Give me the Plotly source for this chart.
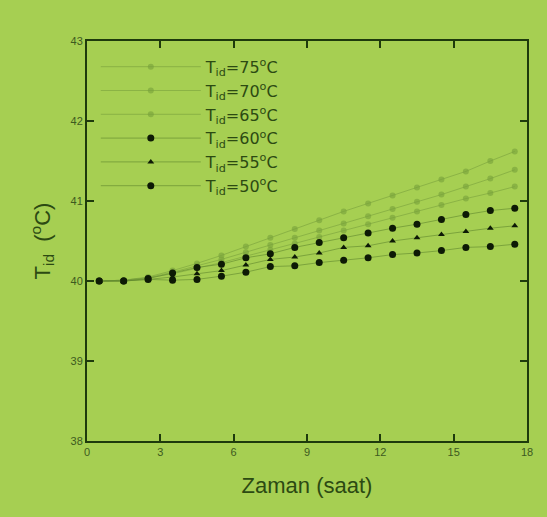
import plotly.graph_objects as go

hours = [0.5, 1.5, 2.5, 3.5, 4.5, 5.5, 6.5, 7.5, 8.5, 9.5, 10.5, 11.5, 12.5, 13.5, 14.5, 15.5, 16.5, 17.5]

t75 = [40.00, 40.01, 40.05, 40.13, 40.22, 40.32, 40.43, 40.54, 40.65, 40.76, 40.87, 40.97, 41.07, 41.17, 41.27, 41.37, 41.50, 41.62]
t70 = [40.00, 40.01, 40.04, 40.11, 40.19, 40.27, 40.36, 40.45, 40.54, 40.63, 40.72, 40.81, 40.90, 40.99, 41.08, 41.18, 41.28, 41.39]
t65 = [40.00, 40.01, 40.04, 40.09, 40.16, 40.23, 40.31, 40.39, 40.47, 40.55, 40.63, 40.71, 40.79, 40.87, 40.95, 41.03, 41.10, 41.18]
t60 = [40.00, 40.00, 40.03, 40.10, 40.17, 40.21, 40.29, 40.34, 40.42, 40.48, 40.54, 40.60, 40.66, 40.71, 40.77, 40.83, 40.88, 40.91]
t55 = [40.00, 40.00, 40.02, 40.05, 40.09, 40.13, 40.20, 40.27, 40.30, 40.35, 40.42, 40.44, 40.50, 40.54, 40.58, 40.62, 40.66, 40.69]
t50 = [40.00, 40.00, 40.02, 40.01, 40.02, 40.06, 40.11, 40.18, 40.19, 40.23, 40.26, 40.29, 40.33, 40.35, 40.38, 40.42, 40.43, 40.46]

labels = ["75", "70", "65", "60", "55", "50"]
series = [t75, t70, t65, t60, t55, t50]

x_ticks = [0, 3, 6, 9, 12, 15, 18]
y_ticks = [38, 39, 40, 41, 42, 43]

BG = "#a6cf52"
DARK = "#1e3a0c"
TXT = "#2c4a12"
FAINT = "rgba(118,160,58,0.6)"
FAINT_LINE = "rgba(112,152,55,0.5)"
BLK_LINE = "rgba(95,135,45,0.6)"

styles = [
    dict(color=FAINT, symbol="circle", size=6, line=FAINT_LINE),
    dict(color=FAINT, symbol="circle", size=6, line=FAINT_LINE),
    dict(color=FAINT, symbol="circle", size=6, line=FAINT_LINE),
    dict(color="#0d1a05", symbol="circle", size=7, line=BLK_LINE),
    dict(color="#0d1a05", symbol="triangle-up", size=6, line=BLK_LINE),
    dict(color="#0d1a05", symbol="circle", size=7, line=BLK_LINE),
]

fig = go.Figure()
for lab, ys, st in zip(labels, series, styles):
    fig.add_trace(go.Scatter(
        x=hours, y=ys, mode="lines+markers",
        name=f"T<sub>id</sub>={lab}<sup>o</sup>C",
        line=dict(color=st["line"], width=1),
        marker=dict(color=st["color"], symbol=st["symbol"], size=st["size"]),
    ))

axis_common = dict(
    showline=True, linecolor=DARK, linewidth=2, mirror="ticks",
    ticks="inside", ticklen=7, tickcolor=DARK, tickwidth=1.5,
    showgrid=False, zeroline=False,
    tickfont=dict(family="Liberation Sans, Arial", size=11, color="#3d5a20"),
)

fig.update_layout(
    width=547, height=517,
    paper_bgcolor=BG, plot_bgcolor=BG,
    margin=dict(l=87, r=20, t=41, b=76),
    showlegend=True,
    legend=dict(
        x=0.02, y=0.978, xanchor="left", yanchor="top",
        bgcolor="rgba(0,0,0,0)", borderwidth=0,
        font=dict(family="DejaVu Sans", size=16, color=TXT),
        itemwidth=100, tracegroupgap=0,
    ),
    xaxis=dict(range=[0, 18], tickvals=x_ticks, ticktext=[str(v) for v in x_ticks],
               title=dict(text="Zaman (saat)", standoff=20,
                          font=dict(family="Liberation Sans, Arial", size=22, color=TXT)),
               **axis_common),
    yaxis=dict(range=[38, 43], tickvals=y_ticks, ticktext=[str(v) for v in y_ticks],
               title=dict(text="T<sub>id</sub>  (<sup>o</sup>C)", standoff=14,
                          font=dict(family="Liberation Sans, Arial", size=22, color=TXT)),
               **axis_common),
)

fig.write_html("out.html")
